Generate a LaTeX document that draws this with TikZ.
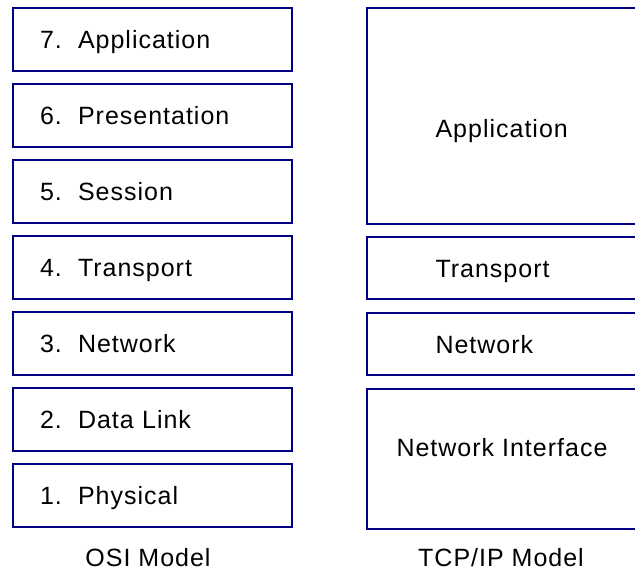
\documentclass[tikz,border=0pt]{standalone}
\usepackage{fontspec}
\setmainfont{Liberation Sans}[LetterSpace=4]
\usetikzlibrary{positioning}
\definecolor{layerblue}{RGB}{0,0,128}

\begin{document}
\begin{tikzpicture}[x=1pt, y=-1pt, node distance=13pt,
  every node/.style={font=\fontsize{25}{30}\selectfont},
  layer/.style={rectangle, draw=layerblue, line width=1.6pt, outer sep=0pt},
  osi/.style={layer, minimum height=63pt, text width=225pt, inner xsep=27pt, align=left, text height=18pt, text depth=0pt},
  tcp/.style={layer, minimum width=280pt, anchor=north west, inner sep=0pt}]
  \useasboundingbox (0,0) rectangle (635,573);
  \clip (0,0) rectangle (635,573);
  % OSI stack
  \node[osi] (app7) at (152.5,39.5) {\makebox[38pt][l]{7.}Application};
  \node[osi] (pres6) [below=of app7] {\makebox[38pt][l]{6.}Presentation};
  \node[osi] (sess5) [below=of pres6] {\makebox[38pt][l]{5.}Session};
  \node[osi] (trans4) [below=of sess5] {\makebox[38pt][l]{4.}Transport};
  \node[osi] (net3) [below=of trans4] {\makebox[38pt][l]{3.}Network};
  \node[osi] (link2) [below=of net3] {\makebox[38pt][l]{2.}Data Link};
  \node[osi] (phys1) [below=of link2] {\makebox[38pt][l]{1.}Physical};
  % TCP/IP stack
  \node[tcp, minimum height=216pt] (tcpapp) at (367,8) {};
  \node[tcp, minimum height=62pt] (tcptrans) at (367,237) {};
  \node[tcp, minimum height=62pt] (tcpnet) at (367,313) {};
  \node[tcp, minimum height=140pt] (tcpif) at (367,389) {};
  \node[anchor=base west] (tcpappTxt) at (432,137) {Application};
  \node[anchor=base west] (tcptransTxt) at (432,277) {Transport};
  \node[anchor=base west] (tcpnetTxt) at (432,353) {Network};
  \node[anchor=base west] (tcpifTxt) at (393,456) {Network Interface};
  % captions
  \node[anchor=base] (osiCap) at (148,566) {OSI Model};
  \node[anchor=base] (tcpCap) at (501,566) {TCP/IP Model};
\end{tikzpicture}
\end{document}
